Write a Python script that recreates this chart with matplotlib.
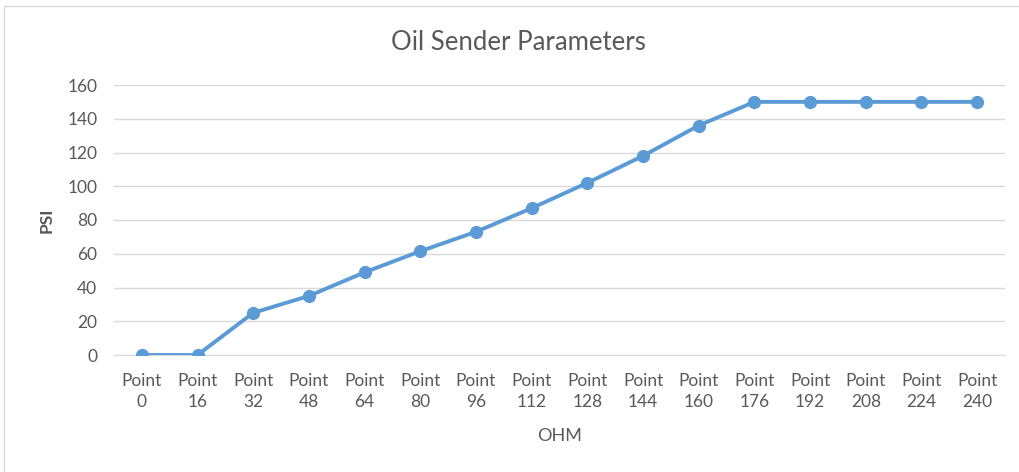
import numpy as np
import matplotlib.pyplot as plt
from matplotlib.patches import Rectangle

ohm = [0, 16, 32, 48, 64, 80, 96, 112, 128, 144, 160, 176, 192, 208, 224, 240]
psi = [0, 0, 25, 35, 49, 61.5, 73, 87, 102, 118, 136, 150, 150, 150, 150, 150]
labels = ['Point\n%d' % v for v in ohm]

plt.rcParams['font.family'] = ['Lato', 'DejaVu Sans']
text_grey = '#595959'
line_blue = '#5B9BD5'

fig = plt.figure(figsize=(10.19, 4.72), dpi=100)
ax = fig.add_axes([114 / 1019, 1 - 355 / 472, (1005 - 114) / 1019, (355 - 85) / 472])

# outer chart frame (only left and top edges show in the crop)
fig.patches.append(Rectangle((4 / 1019, -0.1), 1.0, 1.1 - 6 / 472, transform=fig.transFigure,
                             fill=False, edgecolor='#d9d9d9', linewidth=1.0))

x = np.arange(len(ohm))
ax.plot(x, psi, color=line_blue, linewidth=2.8, marker='o', markersize=8.5, zorder=3)

ax.set_xlim(-0.5, len(ohm) - 0.5)
ax.set_ylim(0, 160)
ax.set_yticks(np.arange(0, 161, 20))
ax.set_xticks(x)
ax.set_xticklabels(labels, fontsize=12.5, color=text_grey, linespacing=1.38)
ax.tick_params(axis='y', labelsize=12.5, labelcolor=text_grey, length=0, pad=12)
ax.tick_params(axis='x', length=0, pad=13)
ax.grid(axis='y', color='#d9d9d9', linewidth=1.0)
ax.set_axisbelow(True)
for s in ['top', 'right', 'left']:
    ax.spines[s].set_visible(False)
ax.spines['bottom'].set_color('#d9d9d9')

ax.set_xlabel('OHM', fontsize=13, color=text_grey, labelpad=13)
ax.set_ylabel('PSI', fontsize=12.5, color=text_grey, fontweight='bold', labelpad=9)
fig.text(518 / 1019, 1 - 43 / 472, 'Oil Sender Parameters', fontsize=18.5, color=text_grey,
         ha='center', va='center')

fig.savefig('out.png', dpi=100)
